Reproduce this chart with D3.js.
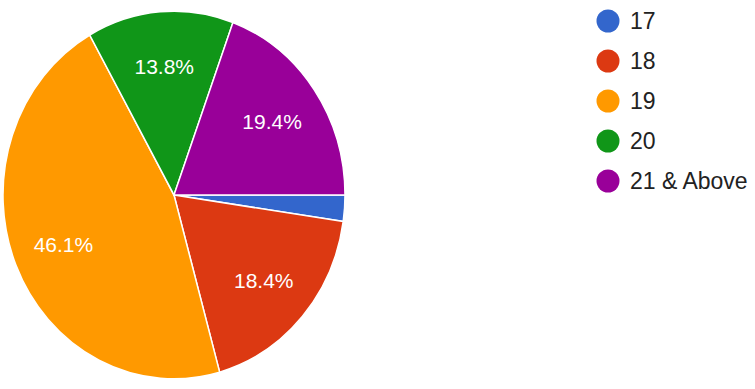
<!DOCTYPE html>
<html>
<head>
<meta charset="utf-8">
<script src="https://cdnjs.cloudflare.com/ajax/libs/d3/7.8.5/d3.min.js"></script>
<style>
  body { margin: 0; background: #fff; }
  svg { display: block; font-family: Arial, "Liberation Sans", sans-serif; }
</style>
</head>
<body>
<div id="chart"></div>
<script>
const categories = ["17", "18", "19", "20", "21 & Above"];
const percents = [2.3, 18.4, 46.1, 13.8, 19.4];
const colors = ["#3366cc", "#dc3912", "#ff9900", "#109618", "#990099"];

const width = 755, height = 389;
const cx = 174, cy = 195;
const r = 171;
const ky = 1.075; // the picture is a little stretched vertically

const svg = d3.select("#chart")
  .append("svg")
  .attr("width", width)
  .attr("height", height);

const data = categories.map((c, i) => ({ name: c, value: percents[i], color: colors[i] }));

const pie = d3.pie()
  .value(d => d.value)
  .sort(null)
  .startAngle(Math.PI / 2)
  .endAngle(Math.PI / 2 + 2 * Math.PI);

const arcs = pie(data);

const arc = d3.arc().innerRadius(0).outerRadius(r);
const labelArc = d3.arc().innerRadius(r * 0.7).outerRadius(r * 0.7);

// slices
const g = svg.append("g")
  .attr("transform", `translate(${cx},${cy}) scale(1,${ky})`);

g.selectAll("path")
  .data(arcs)
  .enter()
  .append("path")
  .attr("d", arc)
  .attr("fill", d => d.data.color)
  .attr("stroke", "#fff")
  .attr("stroke-width", 1.5);

// percent labels (skip the tiny slice)
const lg = svg.append("g")
  .attr("transform", `translate(${cx},${cy})`);

lg.selectAll("text")
  .data(arcs.filter(d => d.data.value > 5))
  .enter()
  .append("text")
  .attr("x", d => labelArc.centroid(d)[0])
  .attr("y", d => labelArc.centroid(d)[1] * ky)
  .attr("dy", "0.36em")
  .attr("text-anchor", "middle")
  .attr("fill", "#fff")
  .attr("font-size", 21)
  .text(d => d.data.value.toFixed(1) + "%");

// legend
const legendY = d3.scalePoint()
  .domain(categories)
  .range([21, 181]);

const legend = svg.append("g");

const item = legend.selectAll("g")
  .data(data)
  .enter()
  .append("g")
  .attr("transform", d => `translate(608,${legendY(d.name)})`);

item.append("circle")
  .attr("r", 11.5)
  .attr("fill", d => d.color);

item.append("text")
  .attr("x", 22)
  .attr("dy", "0.36em")
  .attr("font-size", 23)
  .attr("fill", "#222")
  .text(d => d.name);
</script>
</body>
</html>
